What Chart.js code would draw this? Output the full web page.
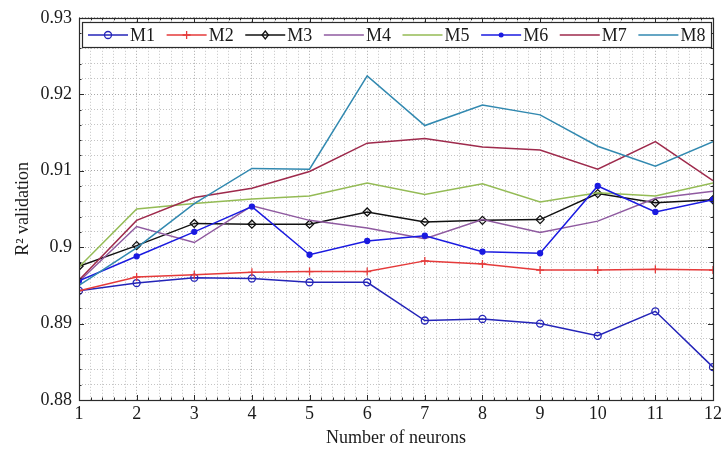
<!DOCTYPE html>
<html>
<head>
<meta charset="utf-8">
<title>R2 validation vs number of neurons</title>
<script src="https://cdn.jsdelivr.net/npm/chart.js@4.4.1/dist/chart.umd.min.js"></script>
<style>
  body { margin: 0; background: #fff; }
  canvas { display: block; }
</style>
</head>
<body>
<canvas id="chart" width="726" height="450"></canvas>
<script>
  // values
  const neurons = [1, 2, 3, 4, 5, 6, 7, 8, 9, 10, 11, 12];
  const seriesNames = ["M1", "M2", "M3", "M4", "M5", "M6", "M7", "M8"];
  const m1 = [0.8943, 0.8953, 0.8960, 0.8959, 0.8954, 0.8954, 0.8904, 0.8906, 0.8900, 0.8884, 0.8916, 0.8843];
  const m2 = [0.8943, 0.8961, 0.8964, 0.8967, 0.8968, 0.8968, 0.8982, 0.8978, 0.8970, 0.8970, 0.8971, 0.8970];
  const m3 = [0.8975, 0.9002, 0.9031, 0.9030, 0.9030, 0.9046, 0.9033, 0.9035, 0.9036, 0.9070, 0.9058, 0.9062];
  const m4 = [0.8955, 0.9027, 0.9006, 0.9054, 0.9035, 0.9025, 0.9011, 0.9036, 0.9019, 0.9034, 0.9064, 0.9073];
  const m5 = [0.8974, 0.9050, 0.9057, 0.9063, 0.9067, 0.9084, 0.9069, 0.9083, 0.9059, 0.9071, 0.9067, 0.9084];
  const m6 = [0.8956, 0.8988, 0.9020, 0.9053, 0.8990, 0.9008, 0.9015, 0.8994, 0.8992, 0.9080, 0.9046, 0.9062];
  const m7 = [0.8957, 0.9035, 0.9065, 0.9077, 0.9099, 0.9136, 0.9142, 0.9131, 0.9127, 0.9102, 0.9138, 0.9087];
  const m8 = [0.8950, 0.8999, 0.9057, 0.9103, 0.9102, 0.9224, 0.9159, 0.9186, 0.9173, 0.9132, 0.9106, 0.9138];
  const yMin = 0.88;
  const yMax = 0.93;

  const allSeries = [m1, m2, m3, m4, m5, m6, m7, m8];
  const colors = ["#2424b8", "#e53a3a", "#111111", "#8f5aa0", "#94bb55", "#1a1ae0", "#9e2a4c", "#3289b0"];
  const markers = [
    { style: "circle", radius: 3.5, fill: false },
    { style: "cross", radius: 4, fill: false },
    { style: "rectRot", radius: 4, fill: false },
    null,
    null,
    { style: "circle", radius: 2.5, fill: true },
    null,
    null,
  ];

  const serif = "'Liberation Serif', 'Times New Roman', serif";
  const gridColor = (ctx) => {
    const v = ctx.tick ? ctx.tick.value : 0;
    return Math.abs(v * 100 - Math.round(v * 100)) < 1e-6 ? "#a8a8a8" : "#c4c4c4";
  };

  const datasets = allSeries.map((values, i) => {
    const mk = markers[i];
    return {
      label: seriesNames[i],
      data: values.map((v, j) => ({ x: neurons[j], y: v })),
      borderColor: colors[i],
      backgroundColor: mk && mk.fill ? colors[i] : "rgba(0,0,0,0)",
      borderWidth: 1.5,
      pointStyle: mk ? mk.style : "circle",
      pointRadius: mk ? mk.radius : 0,
      pointBorderWidth: 1.3,
      tension: 0,
      order: 8 - i,
    };
  });

  function drawMarker(ctx, mk, color, x, y) {
    ctx.strokeStyle = color;
    ctx.fillStyle = color;
    ctx.lineWidth = 1.3;
    ctx.beginPath();
    if (mk.style === "circle") {
      ctx.arc(x, y, mk.radius, 0, Math.PI * 2);
      mk.fill ? ctx.fill() : ctx.stroke();
    } else if (mk.style === "cross") {
      ctx.moveTo(x - mk.radius, y); ctx.lineTo(x + mk.radius, y);
      ctx.moveTo(x, y - mk.radius); ctx.lineTo(x, y + mk.radius);
      ctx.stroke();
    } else {
      ctx.moveTo(x, y - mk.radius); ctx.lineTo(x + mk.radius * 0.8, y);
      ctx.lineTo(x, y + mk.radius); ctx.lineTo(x - mk.radius * 0.8, y);
      ctx.closePath();
      ctx.stroke();
    }
  }

  const whiteBg = {
    id: "whiteBg",
    beforeDraw(chart) {
      const c = chart.ctx;
      c.save();
      c.fillStyle = "#fff";
      c.fillRect(0, 0, chart.width, chart.height);
      c.restore();
    },
  };

  // axes box, inward ticks and the boxed legend
  const frame = {
    id: "frame",
    afterDatasetsDraw(chart) {
      const { ctx, chartArea: a, scales } = chart;
      const isMajor = (v, f) => Math.abs(v * f - Math.round(v * f)) < 1e-6;
      ctx.save();
      ctx.strokeStyle = "#2b2b2b";
      ctx.lineWidth = 1;
      ctx.beginPath();
      scales.x.ticks.forEach((t) => {
        const px = Math.round(scales.x.getPixelForValue(t.value)) + 0.5;
        const len = isMajor(t.value, 1) ? 5 : 2.5;
        ctx.moveTo(px, a.bottom); ctx.lineTo(px, a.bottom - len);
        ctx.moveTo(px, a.top); ctx.lineTo(px, a.top + len);
      });
      scales.y.ticks.forEach((t) => {
        const py = Math.round(scales.y.getPixelForValue(t.value)) + 0.5;
        const len = isMajor(t.value, 100) ? 5 : 2.5;
        ctx.moveTo(a.left, py); ctx.lineTo(a.left + len, py);
        ctx.moveTo(a.right, py); ctx.lineTo(a.right - len, py);
      });
      ctx.stroke();
      ctx.lineWidth = 1.2;
      ctx.strokeRect(Math.round(a.left) + 0.5, Math.round(a.top) + 0.5,
        Math.round(a.right - a.left), Math.round(a.bottom - a.top));

      // legend
      const box = { left: 82, top: 22, right: 711, bottom: 47 };
      ctx.fillStyle = "#fff";
      ctx.fillRect(box.left, box.top, box.right - box.left, box.bottom - box.top);
      ctx.strokeStyle = "#2b2b2b";
      ctx.lineWidth = 1.2;
      ctx.strokeRect(box.left + 0.5, box.top + 0.5, box.right - box.left, box.bottom - box.top);
      const step = (box.right - box.left) / seriesNames.length;
      const cy = (box.top + box.bottom) / 2 + 0.5;
      ctx.font = "18px " + serif;
      ctx.textBaseline = "middle";
      ctx.textAlign = "left";
      seriesNames.forEach((name, i) => {
        const x0 = box.left + 6 + i * step;
        ctx.strokeStyle = colors[i];
        ctx.lineWidth = 1.5;
        ctx.beginPath();
        ctx.moveTo(x0, cy); ctx.lineTo(x0 + 40, cy);
        ctx.stroke();
        if (markers[i]) drawMarker(ctx, markers[i], colors[i], x0 + 20, cy);
        ctx.fillStyle = "#1a1a1a";
        ctx.fillText(name, x0 + 42, cy + 1);
      });
      ctx.restore();
    },
  };

  const ctx = document.getElementById("chart").getContext("2d");
  const myChart = new Chart(ctx, {
    type: "line",
    data: { datasets },
    options: {
      responsive: false,
      animation: false,
      layout: { padding: { left: 0, top: 14, right: 13, bottom: 0 } },
      plugins: { legend: { display: false }, tooltip: { enabled: false } },
      scales: {
        x: {
          type: "linear",
          min: neurons[0],
          max: neurons[neurons.length - 1],
          afterBuildTicks: (scale) => {
            const ticks = [];
            for (let k = 0; k <= 55; k++) ticks.push({ value: (10 + 2 * k) / 10 });
            scale.ticks = ticks;
          },
          afterFit: (scale) => { scale.height = 50; },
          grid: {
            color: (c) => (c.tick && Math.abs(c.tick.value - Math.round(c.tick.value)) < 1e-6 ? "#a8a8a8" : "#c4c4c4"),
            lineWidth: 1,
            drawTicks: false,
          },
          border: { display: false, dash: [1, 2] },
          ticks: {
            autoSkip: false,
            maxRotation: 0,
            padding: 3,
            color: "#1a1a1a",
            font: { family: serif, size: 18 },
            callback: (v) => (Math.abs(v - Math.round(v)) < 1e-6 ? String(Math.round(v)) : ""),
          },
          title: {
            display: true,
            text: "Number of neurons",
            color: "#1a1a1a",
            font: { family: serif, size: 18 },
            padding: { top: 0, bottom: 1 },
          },
        },
        y: {
          min: yMin,
          max: yMax,
          afterBuildTicks: (scale) => {
            const ticks = [];
            for (let k = 0; k <= 25; k++) ticks.push({ value: (880 + 2 * k) / 1000 });
            scale.ticks = ticks;
          },
          afterFit: (scale) => { scale.width = 79; },
          grid: { color: gridColor, lineWidth: 1, drawTicks: false },
          border: { display: false, dash: [1, 2] },
          ticks: {
            autoSkip: false,
            padding: 7,
            color: "#1a1a1a",
            font: { family: serif, size: 18 },
            callback: (v) => (Math.abs(v * 100 - Math.round(v * 100)) < 1e-6 ? String(Math.round(v * 100) / 100) : ""),
          },
          title: {
            display: true,
            text: "R\u00B2 validation",
            color: "#1a1a1a",
            font: { family: serif, size: 18 },
            padding: { top: 12, bottom: 0 },
          },
        },
      },
    },
    plugins: [whiteBg, frame],
  });
</script>
</body>
</html>
